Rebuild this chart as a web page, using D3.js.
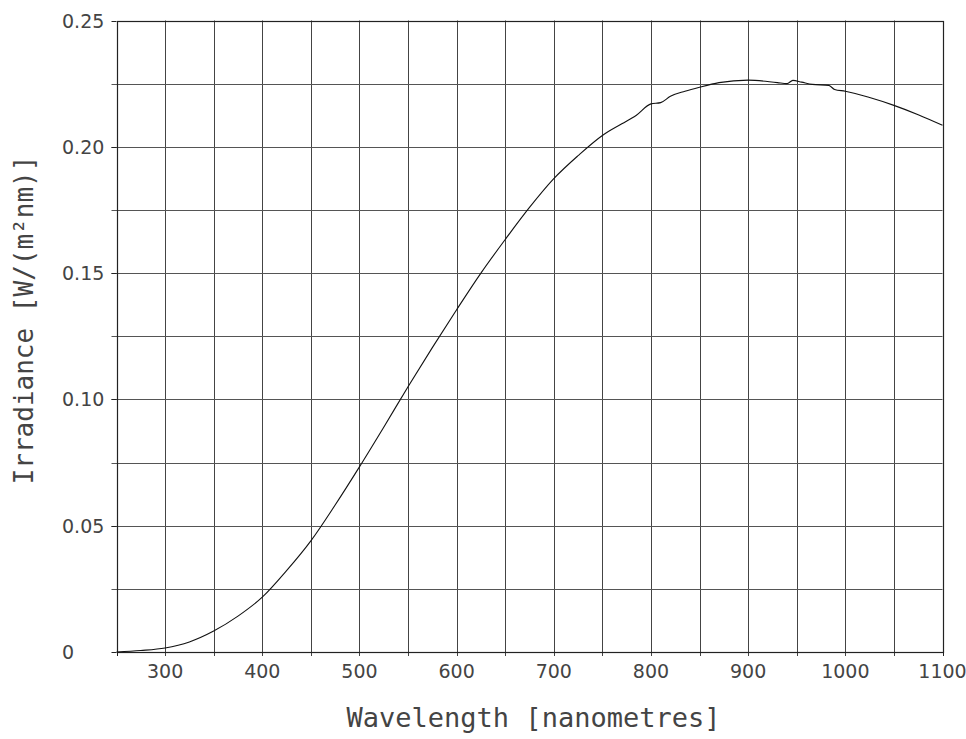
<!DOCTYPE html>
<html>
<head>
<meta charset="utf-8">
<script src="https://cdn.jsdelivr.net/npm/d3@7"></script>
<style>
  body { margin: 0; background: #fff; }
  svg { display: block; }
  .tick-label { font-family: "DejaVu Sans", sans-serif; font-size: 19px; fill: #444; }
  .title { font-family: "DejaVu Sans Mono", monospace; fill: #444; }
</style>
</head>
<body>
<div id="chart"></div>
<script>
// wavelength in nm, irradiance in W/(m2 nm)
var wavelength = [250, 275, 300, 325, 350, 375, 400, 425, 450, 475, 500, 525, 550, 575, 600,
  625, 650, 675, 700, 725, 750, 770, 785, 800, 810, 820, 835, 850, 870, 900, 930, 940,
  946, 955, 966, 983, 989, 1000, 1025, 1050, 1075, 1100];
var irradiance = [0.0, 0.0006, 0.0016, 0.0040, 0.0083, 0.0142, 0.0217, 0.0322, 0.0440, 0.0582,
  0.0733, 0.0890, 0.1050, 0.1205, 0.1355, 0.1500, 0.1633, 0.1760, 0.1874, 0.1965, 0.2045,
  0.2091, 0.2125, 0.2170, 0.2175, 0.2200, 0.2220, 0.2236, 0.2254, 0.2264, 0.2254, 0.2250,
  0.2263, 0.2256, 0.2247, 0.2243, 0.2227, 0.2220, 0.2195, 0.2164, 0.2127, 0.2085];

var xTicks = [300, 400, 500, 600, 700, 800, 900, 1000, 1100];
var xGrid = d3.range(300, 1100, 50);
var yTicks = [0, 0.05, 0.10, 0.15, 0.20, 0.25];
var yTickLabels = ["0", "0.05", "0.10", "0.15", "0.20", "0.25"];
var yGrid = d3.range(0.025, 0.25, 0.025);

var width = 966, height = 739;

var x = d3.scaleLinear().domain([250, 1100]).range([116.5, 942.5]);
var y = d3.scaleLinear().domain([0, 0.25]).range([652, 20.5]);

var svg = d3.select("#chart").append("svg")
    .attr("width", width)
    .attr("height", height);

// grid
svg.append("g").selectAll("line")
    .data(xGrid)
  .enter().append("line")
    .attr("x1", function(d) { return Math.round(x(d)) + 0.5; })
    .attr("x2", function(d) { return Math.round(x(d)) + 0.5; })
    .attr("y1", y(0.25))
    .attr("y2", y(0) + 4)
    .attr("stroke", "#444")
    .attr("stroke-width", 1);

svg.append("g").selectAll("line")
    .data(yGrid)
  .enter().append("line")
    .attr("x1", x(250) - 5)
    .attr("x2", x(1100))
    .attr("y1", function(d) { return Math.round(y(d)) + 0.5; })
    .attr("y2", function(d) { return Math.round(y(d)) + 0.5; })
    .attr("stroke", "#555")
    .attr("stroke-width", 1);

// frame
svg.append("rect")
    .attr("x", Math.round(x(250)) + 0.5)
    .attr("y", Math.round(y(0.25)) + 0.5)
    .attr("width", Math.round(x(1100)) - Math.round(x(250)))
    .attr("height", Math.round(y(0)) - Math.round(y(0.25)))
    .attr("fill", "none")
    .attr("stroke", "#222")
    .attr("stroke-width", 1.2);

// ticks on the frame
svg.append("g").selectAll("line")
    .data(yTicks)
  .enter().append("line")
    .attr("x1", x(250) - 5)
    .attr("x2", x(250))
    .attr("y1", function(d) { return Math.round(y(d)) + 0.5; })
    .attr("y2", function(d) { return Math.round(y(d)) + 0.5; })
    .attr("stroke", "#222");

svg.append("g").selectAll("line")
    .data([250, 1100])
  .enter().append("line")
    .attr("x1", function(d) { return Math.round(x(d)) + 0.5; })
    .attr("x2", function(d) { return Math.round(x(d)) + 0.5; })
    .attr("y1", y(0))
    .attr("y2", y(0) + 4)
    .attr("stroke", "#222");

// tick labels
svg.append("g").selectAll("text")
    .data(xTicks)
  .enter().append("text")
    .attr("class", "tick-label")
    .attr("x", function(d) { return x(d); })
    .attr("y", y(0) + 26)
    .attr("text-anchor", "middle")
    .text(function(d) { return d; });

svg.append("g").selectAll("text")
    .data(yTicks)
  .enter().append("text")
    .attr("class", "tick-label")
    .attr("x", 62)
    .attr("y", function(d) { return y(d) + 7; })
    .text(function(d, i) { return yTickLabels[i]; });

// curve
var line = d3.line()
    .x(function(d) { return x(d[0]); })
    .y(function(d) { return y(d[1]); })
    .curve(d3.curveMonotoneX);

svg.append("path")
    .datum(d3.zip(wavelength, irradiance))
    .attr("d", line)
    .attr("fill", "none")
    .attr("stroke", "#111")
    .attr("stroke-width", 1.1);

// axis titles
svg.append("text")
    .attr("class", "title")
    .attr("x", (x(250) + x(1100)) / 2 + 4)
    .attr("y", 727)
    .attr("text-anchor", "middle")
    .style("font-size", "27px")
    .text("Wavelength [nanometres]");

svg.append("text")
    .attr("class", "title")
    .attr("transform", "translate(33,320)rotate(-90)")
    .attr("text-anchor", "middle")
    .style("font-size", "26px")
    .text("Irradiance [W/(m²nm)]");
</script>
</body>
</html>
